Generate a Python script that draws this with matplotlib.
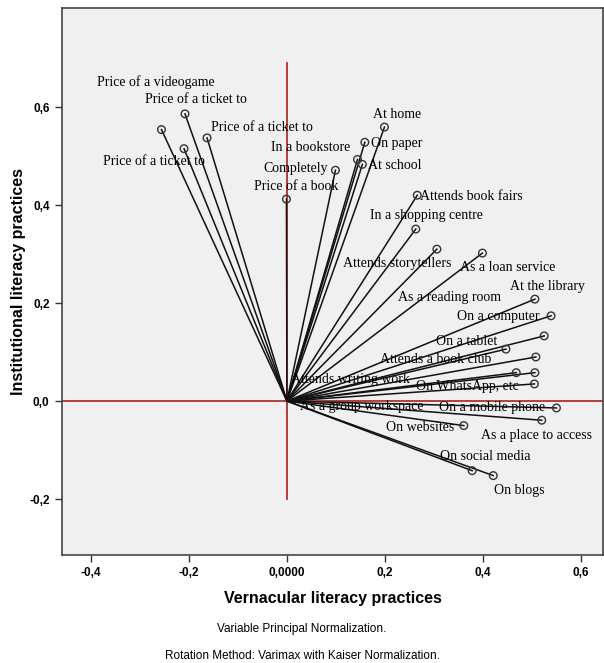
import matplotlib
matplotlib.use("Agg")
import matplotlib.pyplot as plt

# loadings (vernacular, institutional)
labels = ["Price of a videogame", "Price of a ticket to", "Price of a ticket to",
          "Price of a ticket to", "Price of a book", "Completely", "In a bookstore",
          "On paper", "At school", "At home", "Attends book fairs",
          "In a shopping centre", "Attends storytellers", "As a loan service",
          "At the library", "As a reading room", "On a computer", "On a tablet",
          "Attends a book club", "Attends writing work", "On WhatsApp, etc",
          "As a group workspace", "On a mobile phone", "On websites",
          "As a place to access", "On social media", "On blogs"]
vern = [-0.256, -0.208, -0.163, -0.210, -0.001, 0.099, 0.144, 0.159, 0.154, 0.199,
        0.266, 0.263, 0.306, 0.399, 0.506, 0.525, 0.539, 0.447, 0.508, 0.468,
        0.505, 0.506, 0.550, 0.361, 0.520, 0.378, 0.421]
inst = [0.554, 0.586, 0.537, 0.515, 0.412, 0.471, 0.493, 0.528, 0.483, 0.559,
        0.420, 0.351, 0.310, 0.302, 0.208, 0.133, 0.174, 0.106, 0.090, 0.058,
        0.035, 0.058, -0.014, -0.050, -0.039, -0.142, -0.152]

xticks = [-0.4, -0.2, 0.0, 0.2, 0.4, 0.6]
xticklabels = ["-0,4", "-0,2", "0,0000", "0,2", "0,4", "0,6"]
yticks = [-0.2, 0.0, 0.2, 0.4, 0.6]
yticklabels = ["-0,2", "0,0", "0,2", "0,4", "0,6"]

# label offsets in pixels from each point (left edge, vertical centre)
offsets = [(-64, 47), (-40, 14), (4, 10), (-81, -13), (-32, 13), (-72, 2), (-86, 12),
           (6, -1), (6, -1), (-11, 13), (3, -1), (-46, 14), (-94, -14), (-22, -14),
           (-25, 13), (-146, 38), (-94, -1), (-70, 8), (-156, -3), (-225, -7),
           (-118, -3), (-235, -34), (-117, 0), (-78, -2), (-61, -15), (-32, 14),
           (1, -15)]

fig = plt.figure(figsize=(6.04, 6.63), dpi=100)
ax = fig.add_axes([62/604, 1-555/663, 541/604, 547/663])
ax.set_facecolor("#f0f0f0")
ax.set_xlim(-0.459, 0.645)
ax.set_ylim(-0.314, 0.802)

red = "#b03030"
ax.axhline(0, color=red, lw=1.3, zorder=1)
ax.plot([0, 0], [-0.2, 0.69], color=red, lw=1.3, zorder=1)

for x, y in zip(vern, inst):
    ax.plot([0, x], [0, y], color="#111111", lw=1.1, zorder=2)
ax.scatter(vern, inst, s=30, facecolors="none", edgecolors="#333333",
           linewidths=1.0, zorder=3)

for lab, x, y, (dx, dy) in zip(labels, vern, inst, offsets):
    ax.annotate(lab, (x, y), xytext=(dx, dy), textcoords="offset pixels",
                ha="left", va="center", fontsize=10, family="Liberation Serif",
                color="black", zorder=4)

ax.set_xticks(xticks)
ax.set_xticklabels(xticklabels)
ax.set_yticks(yticks)
ax.set_yticklabels(yticklabels)
for t in ax.get_xticklabels() + ax.get_yticklabels():
    t.set_fontweight("bold")
    t.set_fontsize(8.5)
    t.set_family("Liberation Sans")
ax.tick_params(direction="out", length=5, width=1, color="#333333", pad=4)
for sp in ax.spines.values():
    sp.set_color("#444444")
    sp.set_linewidth(1.2)

ax.set_xlabel("Vernacular literacy practices", fontsize=11.5, fontweight="bold",
              family="Liberation Sans", labelpad=8)
ax.set_ylabel("Institutional literacy practices", fontsize=11.5, fontweight="bold",
              family="Liberation Sans")
ax.yaxis.set_label_coords(-36/541, 0.5)

fig.text(0.5, 1-629/663, "Variable Principal Normalization.", ha="center", va="center",
         fontsize=8.5, family="Liberation Sans")
fig.text(0.5, 1-656/663, "Rotation Method: Varimax with Kaiser Normalization.",
         ha="center", va="center", fontsize=8.5, family="Liberation Sans")

fig.savefig("out.png", dpi=100)
